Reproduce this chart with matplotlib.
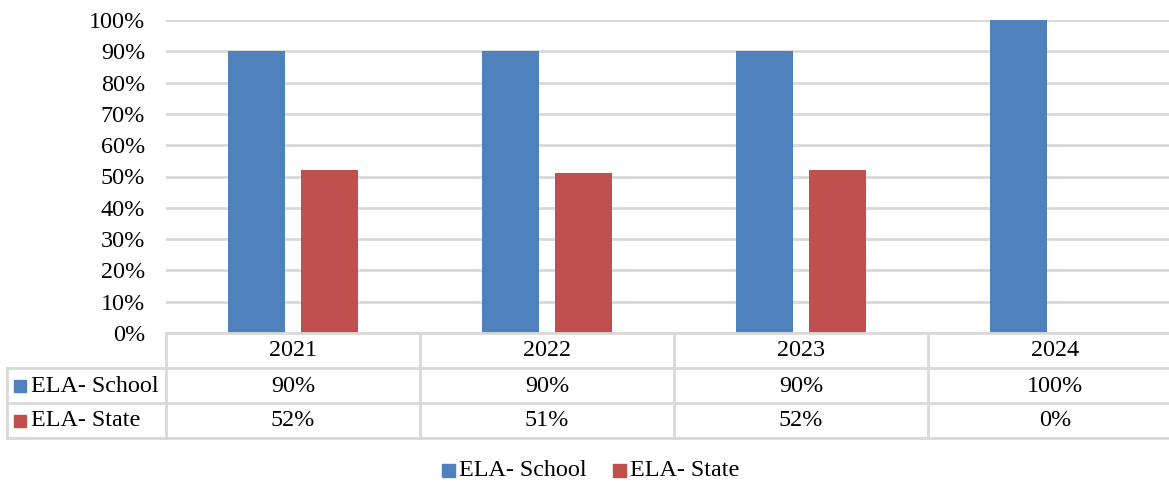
import matplotlib.pyplot as plt
from matplotlib.lines import Line2D
from matplotlib.patches import Rectangle
from matplotlib.transforms import blended_transform_factory
import numpy as np

plt.rcParams['font.family'] = ['Liberation Serif', 'DejaVu Serif']

years = ['2021', '2022', '2023', '2024']
series = ['ELA- School', 'ELA- State']
school = [0.90, 0.90, 0.90, 1.00]
state = [0.52, 0.51, 0.52, 0.00]
colors = ['#4F81BD', '#C0504D']
grid_c = '#D9D9D9'
fs = 17.4

W, H = 1169, 487
fig = plt.figure(figsize=(W / 100, H / 100), dpi=100)

def fy(py):
    return 1 - py / H

# plot area: x 166 -> 1182 px (last column runs past the edge), y 20 -> 333 px
ax = fig.add_axes([166 / W, fy(333), 1016 / W, (333 - 20) / H])
x = np.arange(len(years))
bw, off = 0.224, 0.143
ax.bar(x - off, school, bw, color=colors[0], zorder=3)
ax.bar(x + off, state, bw, color=colors[1], zorder=3)
ax.set_xlim(-0.5, len(years) - 0.5)
ax.set_ylim(0, 1)
ax.set_yticks(np.linspace(0, 1, 11))
ax.set_yticklabels([f'{int(round(v * 100))}%' for v in np.linspace(0, 1, 11)])
ax.yaxis.grid(True, color=grid_c, linewidth=2, zorder=0)
ax.tick_params(axis='y', length=0, pad=15, labelsize=fs)
ax.set_xticks([])
for s in ax.spines.values():
    s.set_visible(False)

# data table under the axis
tr = blended_transform_factory(ax.transData, fig.transFigure)
rows_y = [333, 368, 403, 438]
lw = 2

def hline(x0px, py):
    fig.add_artist(Line2D([x0px / W, 1], [fy(py), fy(py)], color=grid_c, lw=lw))

def vline(xpx, y0, y1):
    fig.add_artist(Line2D([xpx / W, xpx / W], [fy(y0), fy(y1)], color=grid_c, lw=lw))

hline(166, rows_y[0])
for py in rows_y[1:]:
    hline(7, py)
vline(7, rows_y[1], rows_y[3])
for i in range(len(years)):
    xpx = 166 + 254 * i
    vline(xpx, rows_y[0], rows_y[3])

for i, yr in enumerate(years):
    fig.text(x[i], fy(351), yr, transform=tr, ha='center', va='center', fontsize=fs)
    fig.text(x[i], fy(386), f'{int(round(school[i] * 100))}%', transform=tr,
             ha='center', va='center', fontsize=fs)
    fig.text(x[i], fy(421), f'{int(round(state[i] * 100))}%', transform=tr,
             ha='center', va='center', fontsize=fs)

for j, (name, c) in enumerate(zip(series, colors)):
    cy = 386 + 35 * j
    fig.add_artist(Rectangle((14 / W, fy(cy + 6)), 12 / W, 12 / H, color=c,
                             transform=fig.transFigure))
    fig.text(31 / W, fy(cy), name, ha='left', va='center', fontsize=fs)

# legend at the bottom
leg_x = [442, 613]
for name, c, lx in zip(series, colors, leg_x):
    fig.add_artist(Rectangle((lx / W, fy(477)), 13 / W, 13 / H, color=c,
                             transform=fig.transFigure))
    fig.text((lx + 17) / W, fy(471), name, ha='left', va='center', fontsize=fs)

fig.savefig('out.png', dpi=100)
